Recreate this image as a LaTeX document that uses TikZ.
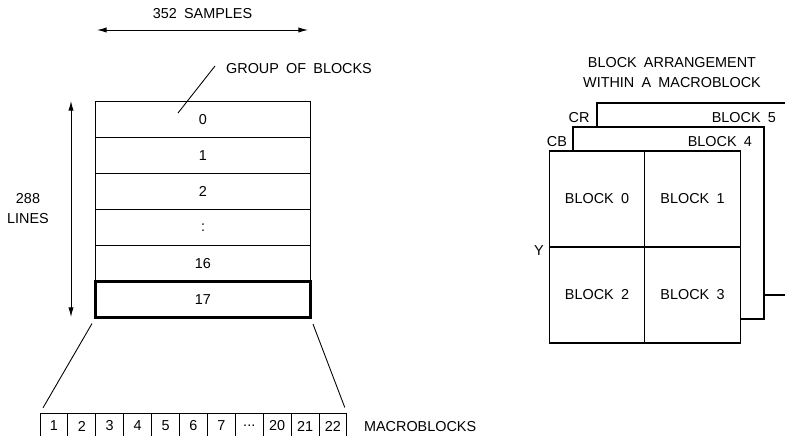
\documentclass[tikz,border=0pt]{standalone}
\usepackage{fontspec}
\setmainfont{Liberation Sans}
\usetikzlibrary{arrows.meta}

\newcommand\figfont{\fontsize{8.2}{11.4}\selectfont\spaceskip 0.5em\relax}
\tikzset{
  lbl/.style={font=\figfont,inner sep=1pt},
  gobrow/.style={lbl,draw,line width=0.5pt,minimum width=4.3cm,minimum height=0.72cm,outer sep=0pt},
  mbcell/.style={lbl,draw,line width=0.5pt,minimum width=0.558cm,minimum height=0.52cm,outer sep=0pt},
  blk/.style={lbl,draw,fill=white,line width=0.6pt,minimum width=1.91cm,minimum height=1.92cm,outer sep=0pt},
  plate/.style={draw,fill=white,line width=0.6pt,minimum width=3.82cm,minimum height=3.84cm,outer sep=0pt},
  dimarrow/.style={{Latex[length=5.5pt,width=3pt]}-{Latex[length=5.5pt,width=3pt]},line width=0.5pt}
}

\begin{document}
\begin{tikzpicture}[x=0.02cm,y=-0.02cm]
  \useasboundingbox (0,0) rectangle (785,436);
  % picture of 18 groups of blocks
  \node[gobrow] (r0) at (203,119.7) {0};
  \node[gobrow] (r1) at (203,155.7) {1};
  \node[gobrow] (r2) at (203,191.7) {2};
  \node[gobrow] (r3) at (203,227.7) {:};
  \node[gobrow] (r16) at (203,263.7) {16};
  \node[gobrow,line width=1.2pt] (r17) at (203,299.5) {17};
  \coordinate (sl) at (97,30);
  \coordinate (sr) at (308,30);
  \draw[dimarrow] (sl) -- node[lbl,above=5pt] (samples) {352 SAMPLES} (sr);
  \coordinate (lt) at (71,101);
  \coordinate (lb) at (71,317);
  \draw[dimarrow] (lt) -- (lb);
  \node[lbl,align=center] (lines) at (28,209) {288\\LINES};
  \node[lbl] (gob) at (299,69) {GROUP OF BLOCKS};
  \coordinate (gt) at (215,66);
  \coordinate (gl) at (178,113);
  \draw[line width=0.5pt] (gt) -- (gl);
  % macroblocks of one group
  \node[mbcell] (m1) at (53.95,426) {1};
  \node[mbcell] (m2) at (81.85,426) {2};
  \node[mbcell] (m3) at (109.75,426) {3};
  \node[mbcell] (m4) at (137.65,426) {4};
  \node[mbcell] (m5) at (165.55,426) {5};
  \node[mbcell] (m6) at (193.45,426) {6};
  \node[mbcell] (m7) at (221.35,426) {7};
  \node[mbcell] (m8) at (249.25,426) {...};
  \node[mbcell] (m9) at (277.15,426) {20};
  \node[mbcell] (m10) at (305.05,426) {21};
  \node[mbcell] (m11) at (332.95,426) {22};
  \node[lbl,anchor=west] (mbs) at (362,427) {MACROBLOCKS};
  \draw[line width=0.5pt,shorten <=4pt,shorten >=3.4pt] (r17.south west) -- (m1.north west);
  \draw[line width=0.5pt,shorten <=4pt,shorten >=3.4pt] (r17.south east) -- (m11.north east);
  % block arrangement
  \node[lbl,align=center] (head) at (672,73) {BLOCK ARRANGEMENT\\WITHIN A MACROBLOCK};
  \node[plate] (cr) at (692.5,199) {};
  \node[plate] (cb) at (668.5,223) {};
  \node[blk] (b0) at (597,199) {BLOCK 0};
  \node[blk] (b1) at (692.5,199) {BLOCK 1};
  \node[blk] (b2) at (597,295) {BLOCK 2};
  \node[blk] (b3) at (692.5,295) {BLOCK 3};
  \node[lbl] (crl) at (579,118) {CR};
  \node[lbl,anchor=east] (blk5) at (778,118) {BLOCK 5};
  \node[lbl] (cbl) at (557,142) {CB};
  \node[lbl,anchor=east] (blk4) at (754,142) {BLOCK 4};
  \node[lbl] (yl) at (539,251) {Y};
\end{tikzpicture}
\end{document}
